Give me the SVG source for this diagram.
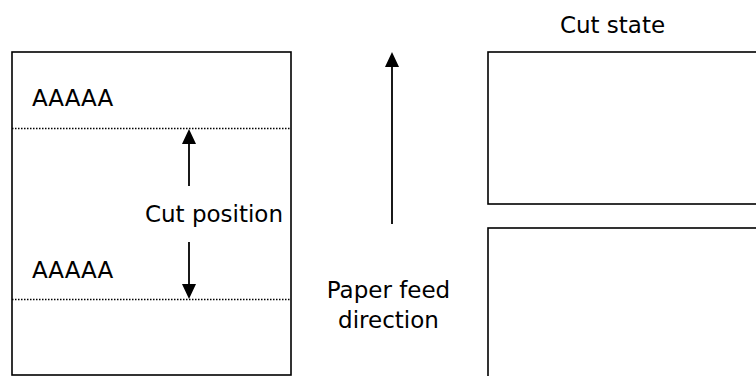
<svg xmlns="http://www.w3.org/2000/svg" width="756" height="376" viewBox="0 0 756 376">
<style>
.box{fill:#fff;stroke:#000;stroke-width:1.6}
.dot{stroke:#000;stroke-width:1.5;stroke-dasharray:1.5 1.5;fill:none}
.ln{stroke:#000;stroke-width:1.8;fill:none}
.t{font-family:"DejaVu Sans",Verdana,sans-serif;font-size:23px;fill:#000}
.m{text-anchor:middle}
</style>
<g id="paper">
<rect class="box" x="12" y="52" width="279" height="323"/>
<line class="dot" x1="12" y1="128.5" x2="291" y2="128.5"/>
<line class="dot" x1="12" y1="299.5" x2="291" y2="299.5"/>
<text class="t" x="32" y="106">AAAAA</text>
<text class="t" x="32" y="278">AAAAA</text>
</g>
<g id="cut-position">
<text class="t m" x="214" y="222">Cut position</text>
</g>
<g id="cut-state">
<text class="t m" x="612.5" y="33">Cut state</text>
<rect class="box" x="488" y="52" width="280" height="152"/>
<rect class="box" x="488" y="228" width="280" height="160"/>
</g>
<g id="feed-label">
<text class="t m" x="388.5" y="298">Paper feed</text>
<text class="t m" x="388.5" y="328">direction</text>
</g>
<g id="connectors">
<path class="ln" d="M189,186 V144" />
<path d="M182,144 L189,129 L196,144 Z" fill="#000"/>
<path class="ln" d="M189,242 V284" />
<path d="M182,284 L189,299 L196,284 Z" fill="#000"/>
<path class="ln" d="M392,224 V67" />
<path d="M385,67 L392,52 L399,67 Z" fill="#000"/>
</g>
</svg>
